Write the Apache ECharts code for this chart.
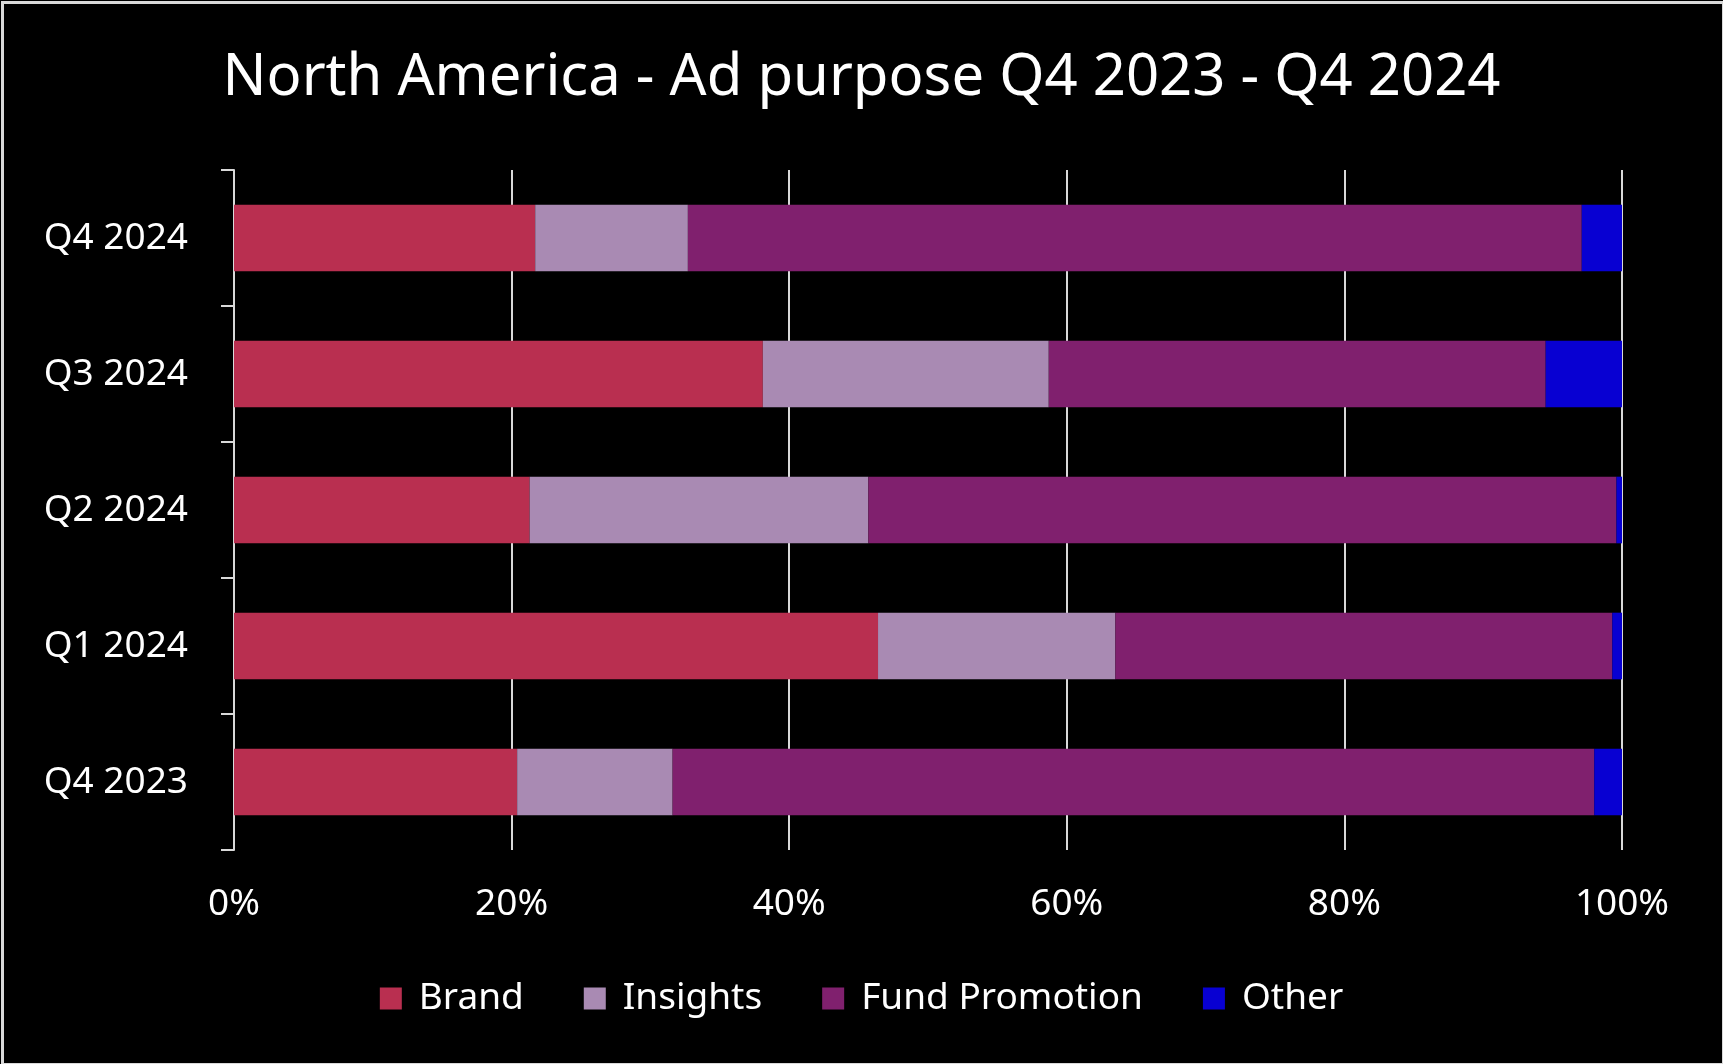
<!DOCTYPE html>
<html>
<head>
<meta charset="utf-8">
<script src="https://cdn.jsdelivr.net/npm/echarts@6/dist/echarts.min.js"></script>
<style>
html,body{margin:0;padding:0;background:#000;}
#c{width:1723px;height:1064px;}
</style>
</head>
<body>
<div id="c"></div>
<script>
const categories = ['Q4 2023', 'Q1 2024', 'Q2 2024', 'Q3 2024', 'Q4 2024'];
const seriesNames = ['Brand', 'Insights', 'Fund Promotion', 'Other'];
const brand = [20.4, 46.4, 21.3, 38.1, 21.7];
const insights = [11.2, 17.1, 24.4, 20.6, 11.0];
const fundPromotion = [66.4, 35.8, 53.9, 35.8, 64.4];
const other = [2.0, 0.7, 0.4, 5.5, 2.9];
const xTicks = [0, 20, 40, 60, 80, 100];
const colors = ['#B92F50', '#A98AB3', '#80206E', '#0800D2'];

const FONT = '"Noto Sans", sans-serif';
const valuesList = [brand, insights, fundPromotion, other];

const chart = echarts.init(document.getElementById('c'));
chart.setOption({
  backgroundColor: '#000',
  animation: false,
  graphic: [{
    type: 'rect', left: 0, top: 0, z: 100, silent: true,
    shape: {x: 1, y: 1, width: 1721, height: 1062},
    style: {fill: 'none', stroke: '#d9d9d9', lineWidth: 3}
  }],
  title: {
    text: 'North America - Ad purpose Q4 2023 - Q4 2024',
    left: 'center', top: 44,
    textStyle: {color: '#fff', fontSize: 58, fontWeight: 'normal', fontFamily: FONT}
  },
  legend: {
    data: seriesNames,
    left: 'center', top: 975,
    icon: 'rect', itemWidth: 22, itemHeight: 22, itemGap: 60,
    textStyle: {color: '#fff', fontSize: 37, fontFamily: FONT, padding: [0, 0, 0, 12]}
  },
  grid: {left: 234, right: 101, top: 170, bottom: 214, containLabel: false},
  xAxis: {
    type: 'value', min: xTicks[0], max: xTicks[xTicks.length - 1], interval: 20,
    axisLine: {show: false}, axisTick: {show: false},
    splitLine: {show: true, lineStyle: {color: '#d9d9d9', width: 2}},
    axisLabel: {color: '#fff', fontSize: 37, fontFamily: FONT, margin: 36, formatter: v => v + '%'}
  },
  yAxis: {
    type: 'category', data: categories,
    axisLine: {show: true, lineStyle: {color: '#d9d9d9', width: 2}},
    axisTick: {show: true, length: 13, lineStyle: {color: '#d9d9d9', width: 2}},
    axisLabel: {color: '#fff', fontSize: 37, fontFamily: FONT, margin: 46}
  },
  series: seriesNames.map((n, i) => ({
    name: n, type: 'bar', stack: 'total', barWidth: '49%',
    data: valuesList[i],
    itemStyle: {color: colors[i]}
  }))
});
</script>
</body>
</html>
